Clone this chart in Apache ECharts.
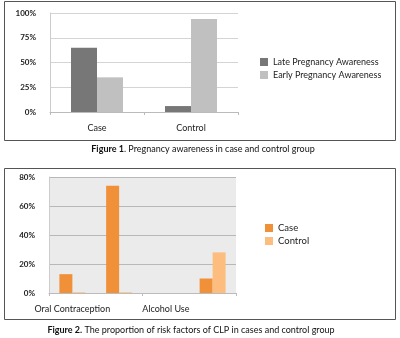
<!DOCTYPE html>
<html>
<head>
<meta charset="utf-8">
<script src="https://cdn.jsdelivr.net/npm/echarts@6/dist/echarts.min.js"></script>
<style>
  html, body { margin: 0; padding: 0; background: #fff; }
  #chart { width: 400px; height: 338px; }
</style>
</head>
<body>
<div id="chart"></div>
<script>
// Figure 1: pregnancy awareness (% of group)
const awarenessGroups = ['Case', 'Control'];
const latePregnancyAwareness = [65, 6];
const earlyPregnancyAwareness = [35, 94];
const awarenessTicks = [0, 25, 50, 75, 100];

// Figure 2: risk factors of CLP (% of group)
const riskFactors = ['Oral Contraception', 'Passive Smoking', 'Alcohol Use', 'Drug Use'];
const caseRisk = [13, 74, 0, 10];
const controlRisk = [0.5, 0.5, 0, 28];
const riskTicks = [0, 20, 40, 60, 80];

const FONT = 'Lato, "Open Sans", sans-serif';
const chart = echarts.init(document.getElementById('chart'), null, { renderer: 'canvas' });

const pct = v => v + '%';

chart.setOption({
  animation: false,
  backgroundColor: '#ffffff',
  textStyle: { fontFamily: FONT },
  graphic: [
    { type: 'rect', shape: { x: 4.5, y: 1.5, width: 391, height: 139 },
      style: { fill: 'none', stroke: '#555', lineWidth: 1 }, silent: true, z: -1 },
    { type: 'rect', shape: { x: 4.5, y: 168.5, width: 391, height: 151 },
      style: { fill: 'none', stroke: '#555', lineWidth: 1 }, silent: true, z: -1 },
    { type: 'text', x: 203, y: 149,
      style: {
        text: '{b|Figure 1}. Pregnancy awareness in case and control group',
        fontFamily: FONT, fontSize: 9, fill: '#111', align: 'center', verticalAlign: 'middle',
        rich: { b: { fontWeight: 'bold', fontFamily: FONT, fontSize: 9, fill: '#111' } }
      } },
    { type: 'text', x: 191, y: 330,
      style: {
        text: '{b|Figure 2.} The proportion of risk factors of CLP in cases and control group',
        fontFamily: FONT, fontSize: 9, fill: '#111', align: 'center', verticalAlign: 'middle',
        rich: { b: { fontWeight: 'bold', fontFamily: FONT, fontSize: 9, fill: '#111' } }
      } }
  ],
  legend: [
    { data: ['Late Pregnancy Awareness', 'Early Pregnancy Awareness'],
      orient: 'vertical', left: 260, top: 57, padding: 0, icon: 'rect',
      itemWidth: 8, itemHeight: 8, itemGap: 3,
      textStyle: { fontSize: 9, color: '#222', fontFamily: FONT, lineHeight: 10 } },
    { data: ['Case', 'Control'],
      orient: 'vertical', left: 265, top: 223, padding: 0, icon: 'rect',
      itemWidth: 8, itemHeight: 8, itemGap: 3,
      textStyle: { fontSize: 9.5, color: '#222', fontFamily: FONT, lineHeight: 10 } }
  ],
  grid: [
    { left: 50, top: 13, width: 188, height: 99, containLabel: false },
    { left: 49, top: 177, width: 187, height: 116, containLabel: false,
      show: true, backgroundColor: '#ebebeb', borderWidth: 0 }
  ],
  xAxis: [
    { type: 'category', gridIndex: 0, data: awarenessGroups,
      axisLine: { lineStyle: { color: '#bbb', width: 1 } },
      axisTick: { show: true, length: 3, lineStyle: { color: '#bbb' } },
      axisLabel: { fontSize: 9, color: '#222', margin: 12, fontFamily: FONT } },
    { type: 'category', gridIndex: 1, data: riskFactors,
      axisLine: { lineStyle: { color: '#bbb', width: 1 } },
      axisTick: { show: true, length: 3, lineStyle: { color: '#bbb' } },
      axisLabel: { fontSize: 9, color: '#222', margin: 12, interval: 1, fontFamily: FONT } }
  ],
  yAxis: [
    { type: 'value', gridIndex: 0, min: awarenessTicks[0], max: awarenessTicks[awarenessTicks.length - 1],
      interval: awarenessTicks[1] - awarenessTicks[0],
      axisLine: { show: true, lineStyle: { color: '#ccc' } },
      axisTick: { show: false },
      splitLine: { lineStyle: { color: '#d4d4d4', width: 1 } },
      axisLabel: { formatter: pct, fontSize: 8, color: '#222', margin: 14, fontWeight: 'bold', fontFamily: FONT } },
    { type: 'value', gridIndex: 1, min: riskTicks[0], max: riskTicks[riskTicks.length - 1],
      interval: riskTicks[1] - riskTicks[0],
      axisLine: { show: true, lineStyle: { color: '#ccc' } },
      axisTick: { show: false },
      splitLine: { lineStyle: { color: '#b8b8b8', width: 1 } },
      axisLabel: { formatter: pct, fontSize: 8, color: '#222', margin: 14, fontWeight: 'bold', fontFamily: FONT } }
  ],
  series: [
    { name: 'Late Pregnancy Awareness', type: 'bar', xAxisIndex: 0, yAxisIndex: 0,
      data: latePregnancyAwareness, barWidth: 26, barGap: '0%',
      itemStyle: { color: '#777777' } },
    { name: 'Early Pregnancy Awareness', type: 'bar', xAxisIndex: 0, yAxisIndex: 0,
      data: earlyPregnancyAwareness, barWidth: 26, barGap: '0%',
      itemStyle: { color: '#c0c0c0' } },
    { name: 'Case', type: 'bar', xAxisIndex: 1, yAxisIndex: 1,
      data: caseRisk, barWidth: 13, barGap: '0%',
      itemStyle: { color: '#f0913a' } },
    { name: 'Control', type: 'bar', xAxisIndex: 1, yAxisIndex: 1,
      data: controlRisk, barWidth: 13, barGap: '0%',
      itemStyle: { color: '#fcbd7e' } }
  ]
});
</script>
</body>
</html>
